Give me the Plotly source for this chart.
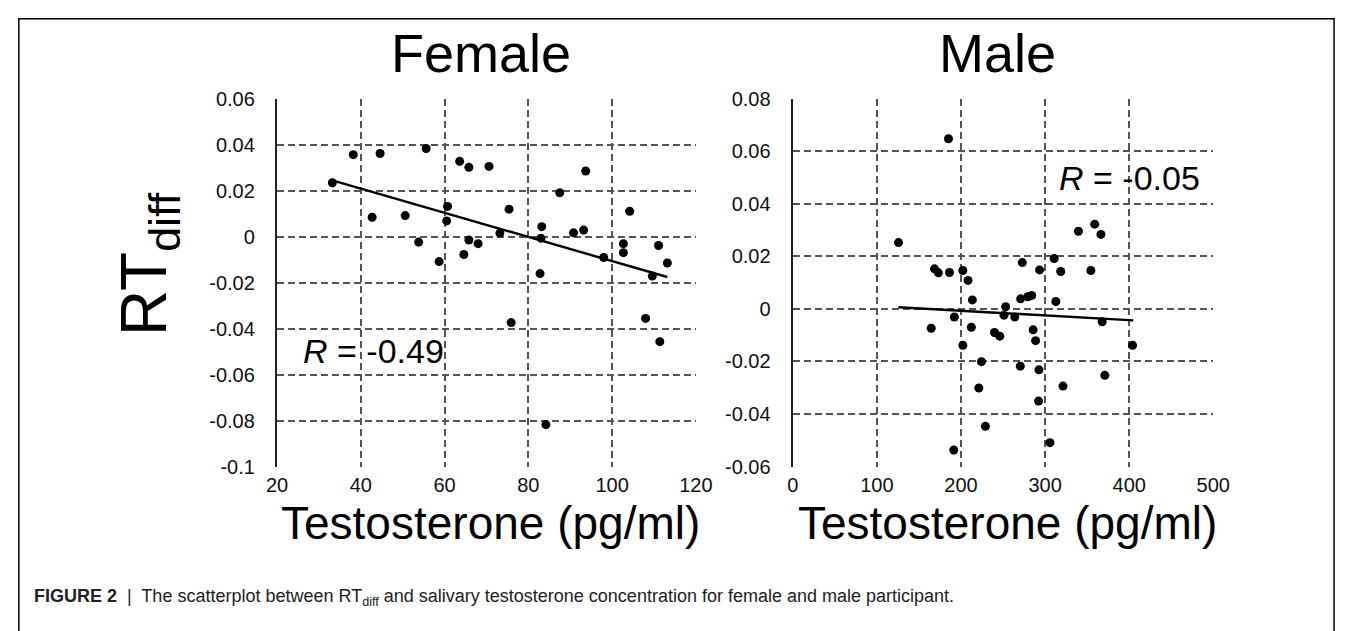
import plotly.graph_objects as go

# ---------------- data ----------------
female_x = [33.2, 38.2, 44.6, 55.6, 63.6, 65.8, 70.6, 93.7, 87.5, 42.7, 50.6, 60.7, 60.5,
            75.4, 104.2, 83.2, 83.0, 90.8, 93.2, 73.2, 53.8, 65.8, 68.0, 102.7, 102.7,
            111.1, 113.2, 98.0, 64.6, 58.7, 82.8, 109.6, 75.9, 108.0, 111.4, 84.2]
female_y = [0.0234, 0.0356, 0.0361, 0.0383, 0.0327, 0.0301, 0.0305, 0.0285, 0.0190, 0.0084,
            0.0091, 0.0131, 0.0068, 0.0119, 0.0110, 0.0043, -0.0007, 0.0016, 0.0028, 0.0015,
            -0.0024, -0.0015, -0.0031, -0.0031, -0.0070, -0.0039, -0.0115, -0.0091, -0.0078,
            -0.0109, -0.0161, -0.0172, -0.0374, -0.0356, -0.0457, -0.0818]
female_fit_x = [33.2, 113.2]
female_fit_y = [0.0244, -0.0176]

male_x = [185.1, 125.7, 339.6, 359.0, 366.4, 168.5, 173.1, 186.3, 202.2, 208.4, 272.9, 310.8,
          293.4, 318.6, 354.4, 213.5, 270.9, 279.4, 284.1, 312.8, 253.1, 251.1, 263.9, 192.1,
          164.6, 212.3, 239.8, 246.1, 285.7, 288.7, 367.9, 202.2, 404.0, 224.3, 270.5, 292.7,
          371.0, 221.2, 321.3, 292.2, 229.0, 305.8, 191.4]
male_y = [0.0647, 0.0252, 0.0295, 0.0322, 0.0283, 0.0152, 0.0137, 0.0138, 0.0146, 0.0108,
          0.0176, 0.0191, 0.0148, 0.0142, 0.0146, 0.0034, 0.0038, 0.0046, 0.0051, 0.0028,
          0.0008, -0.0024, -0.0031, -0.0031, -0.0074, -0.0070, -0.0090, -0.0104, -0.0080,
          -0.0121, -0.0049, -0.0139, -0.0139, -0.0201, -0.0218, -0.0232, -0.0253, -0.0301,
          -0.0294, -0.0351, -0.0447, -0.0509, -0.0537]
male_fit_x = [125.7, 404.8]
male_fit_y = [0.0006, -0.0044]

female_xticks = [20, 40, 60, 80, 100, 120]
female_yticks = [0.06, 0.04, 0.02, 0, -0.02, -0.04, -0.06, -0.08, -0.1]
female_ylabels = ["0.06", "0.04", "0.02", "0", "-0.02", "-0.04", "-0.06", "-0.08", "-0.1"]
male_xticks = [0, 100, 200, 300, 400, 500]
male_yticks = [0.08, 0.06, 0.04, 0.02, 0, -0.02, -0.04, -0.06]
male_ylabels = ["0.08", "0.06", "0.04", "0.02", "0", "-0.02", "-0.04", "-0.06"]

female_r = "<i>R</i> = -0.49"
male_r = "<i>R</i> = -0.05"

# ---------------- figure ----------------
W, H = 1354, 631
FONT = "Liberation Sans, Arial, sans-serif"

def px_x(p):
    return p / W

def px_y(p):
    return 1 - p / H

fig = go.Figure()

dot = dict(color="black", size=9)
fig.add_trace(go.Scatter(x=female_x, y=female_y, mode="markers", marker=dot,
                         xaxis="x", yaxis="y", showlegend=False))
fig.add_trace(go.Scatter(x=female_fit_x, y=female_fit_y, mode="lines",
                         line=dict(color="black", width=2.4),
                         xaxis="x", yaxis="y", showlegend=False))
fig.add_trace(go.Scatter(x=male_x, y=male_y, mode="markers", marker=dot,
                         xaxis="x2", yaxis="y2", showlegend=False))
fig.add_trace(go.Scatter(x=male_fit_x, y=male_fit_y, mode="lines",
                         line=dict(color="black", width=2.4),
                         xaxis="x2", yaxis="y2", showlegend=False))

grid = dict(showgrid=True, gridcolor="#555555", gridwidth=1.8, griddash="7px,4px",
            zeroline=False, tickfont=dict(family=FONT, size=20, color="#111111"),
            ticks="outside", tickcolor="rgba(0,0,0,0)")

ydom = [px_y(472), px_y(90.7)]

fig.update_layout(
    width=W, height=H,
    margin=dict(l=0, r=0, t=0, b=0),
    paper_bgcolor="white", plot_bgcolor="white",
    font=dict(family=FONT, color="black"),
    xaxis=dict(domain=[px_x(271.7), px_x(699.3)], range=[20, 120],
               tickvals=female_xticks, anchor="y", showline=False, ticklen=0, **grid),
    yaxis=dict(domain=ydom, range=[-0.1, 0.06], tickvals=female_yticks,
               ticktext=female_ylabels, anchor="x", showline=True, ticklen=16,
               linecolor="#222222", linewidth=2.4, **grid),
    xaxis2=dict(domain=[px_x(798.3), px_x(1227.7)], range=[0, 500],
                tickvals=male_xticks, anchor="y2", showline=False, ticklen=0, **grid),
    yaxis2=dict(domain=ydom, range=[-0.06, 0.08], tickvals=male_yticks,
                ticktext=male_ylabels, anchor="x2", showline=True, ticklen=16,
                linecolor="#222222", linewidth=2.4, **grid),
)

ann = []
# panel titles
ann.append(dict(text="Female", x=px_x(480), y=px_y(43), xref="paper", yref="paper",
                showarrow=False, font=dict(size=54, family=FONT, color="black"),
                xanchor="center", yanchor="middle"))
ann.append(dict(text="Male", x=px_x(1007), y=px_y(43), xref="paper", yref="paper",
                showarrow=False, font=dict(size=54, family=FONT, color="black"),
                xanchor="center", yanchor="middle"))
# x titles
ann.append(dict(text="Testosterone (pg/ml)", x=px_x(490), y=px_y(531), xref="paper",
                yref="paper", showarrow=False, font=dict(size=46, family=FONT, color="black"),
                xanchor="center", yanchor="middle"))
ann.append(dict(text="Testosterone (pg/ml)", x=px_x(1018), y=px_y(531), xref="paper",
                yref="paper", showarrow=False, font=dict(size=46, family=FONT, color="black"),
                xanchor="center", yanchor="middle"))
# y title
ann.append(dict(text="RT<sub>diff</sub>", x=px_x(140), y=px_y(262), xref="paper",
                yref="paper", showarrow=False, textangle=-90,
                font=dict(size=64, family=FONT, color="black"),
                xanchor="center", yanchor="middle"))
# R values
ann.append(dict(text=female_r, x=25.8, y=-0.0499, xref="x", yref="y", showarrow=False,
                font=dict(size=34, family=FONT, color="black"),
                xanchor="left", yanchor="middle"))
ann.append(dict(text=male_r, x=314.3, y=0.0496, xref="x2", yref="y2", showarrow=False,
                font=dict(size=34, family=FONT, color="black"),
                xanchor="left", yanchor="middle"))
# caption
ann.append(dict(text="<b>FIGURE 2</b>  |  The scatterplot between RT<sub>diff</sub> and salivary "
                     "testosterone concentration for female and male participant.",
                x=px_x(21), y=px_y(608), xref="paper", yref="paper", showarrow=False,
                font=dict(size=18, family=FONT, color="#222222"),
                xanchor="left", yanchor="middle"))
fig.update_layout(annotations=ann)

# outer frame of the figure panel
fig.add_shape(type="rect", xref="paper", yref="paper",
              x0=px_x(8), x1=px_x(1351), y0=px_y(660), y1=px_y(8),
              line=dict(color="black", width=1.5), fillcolor="rgba(0,0,0,0)", layer="below")

fig.write_html("out.html", config={"displayModeBar": False},
               post_script="document.body.style.margin='0';"
                           "document.body.style.overflow='hidden';")
